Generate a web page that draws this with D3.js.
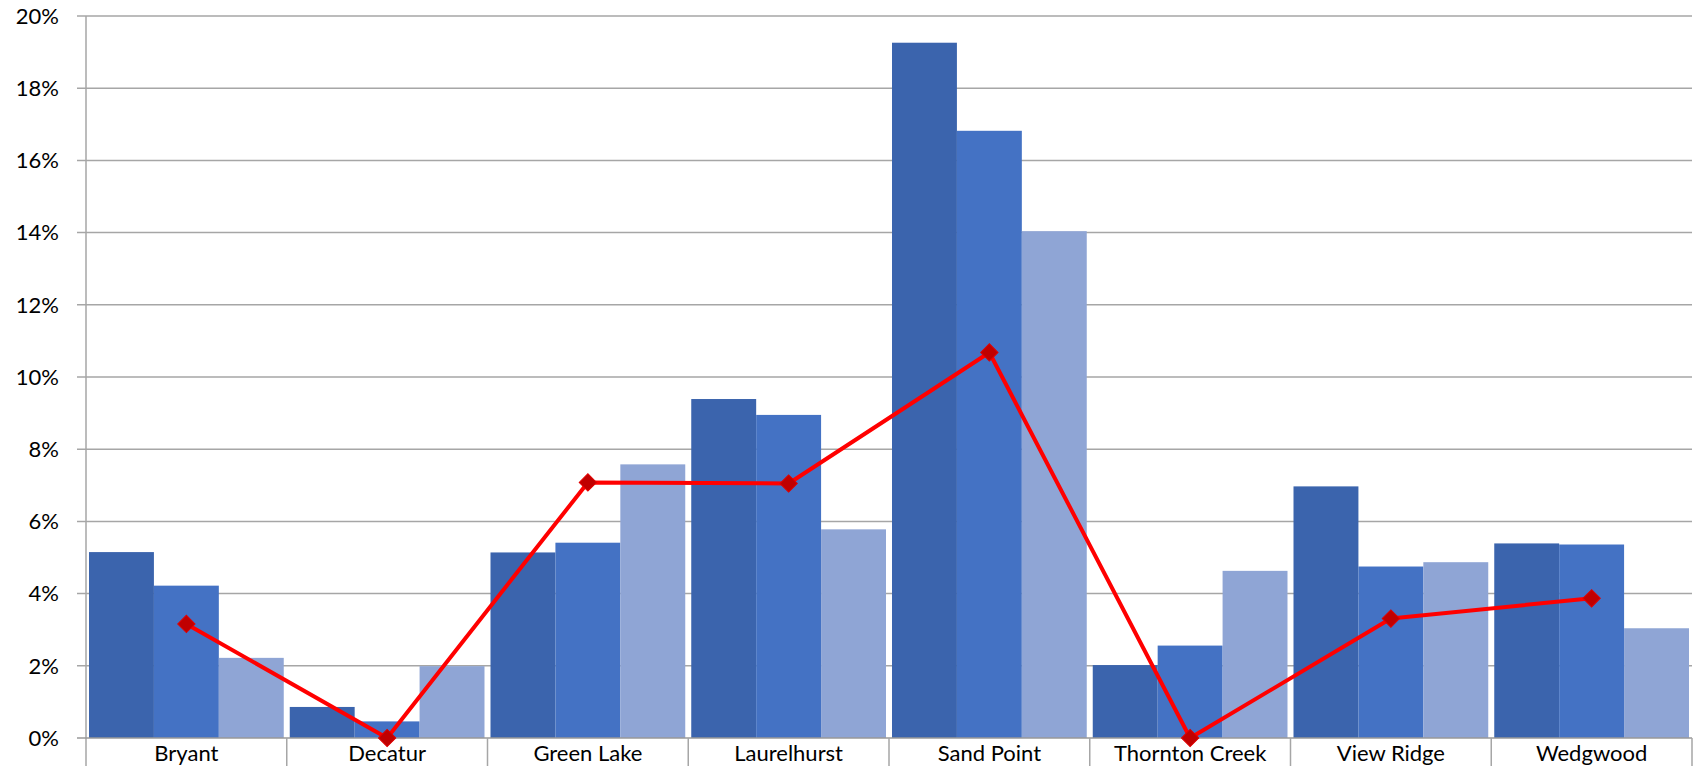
<!DOCTYPE html>
<html>
<head>
<meta charset="utf-8">
<script src="https://cdn.jsdelivr.net/npm/d3@7"></script>
<style>
  html, body { margin: 0; padding: 0; background: #fff; }
  svg { display: block; }
  text { font-family: Lato, "Open Sans", sans-serif; fill: #000; }
</style>
</head>
<body>
<svg id="chart" width="1696" height="766"></svg>
<script>
const categories = ["Bryant", "Decatur", "Green Lake", "Laurelhurst", "Sand Point", "Thornton Creek", "View Ridge", "Wedgwood"];
const seriesNames = ["Series A", "Series B", "Series C"];
const seriesA = [5.15, 0.86, 5.14, 9.39, 19.26, 2.02, 6.97, 5.39];
const seriesB = [4.22, 0.46, 5.41, 8.95, 16.82, 2.56, 4.75, 5.36];
const seriesC = [2.22, 1.99, 7.58, 5.78, 14.04, 4.63, 4.87, 3.04];
const lineValues = [3.16, 0.00, 7.08, 7.05, 10.68, 0.00, 3.31, 3.87];
const yTicks = [0, 2, 4, 6, 8, 10, 12, 14, 16, 18, 20];
const barColors = ["#3B64AD", "#4472C4", "#8FA5D5"];

(function () {
const svg = d3.select("#chart");
const mLeft = 86, mRight = 1692, mTop = 16, mBottom = 738;

const x0 = d3.scaleBand().domain(categories).range([mLeft, mRight]).padding(0);
const x1 = d3.scaleBand().domain(seriesNames).range([3, x0.bandwidth() - 3]).padding(0);
const y = d3.scaleLinear().domain([0, 20]).range([mBottom, mTop]);

// gridlines
svg.append("g").selectAll("line").data(yTicks.filter(d => d > 0)).join("line")
  .attr("x1", mLeft - 9).attr("x2", mRight)
  .attr("y1", d => y(d)).attr("y2", d => y(d))
  .attr("stroke", "#A6A6A6").attr("stroke-width", 1.5);

// y axis line
svg.append("line").attr("x1", mLeft).attr("x2", mLeft).attr("y1", mTop).attr("y2", 766)
  .attr("stroke", "#A6A6A6").attr("stroke-width", 1.5);

// y tick labels
svg.append("g").selectAll("text").data(yTicks).join("text")
  .attr("x", 59).attr("y", d => y(d)).attr("dy", "0.35em")
  .attr("text-anchor", "end").attr("font-size", 22)
  .text(d => d + "%");

// bars
const data = categories.map((c, i) => ({ c, vals: [seriesA[i], seriesB[i], seriesC[i]] }));
const groups = svg.append("g").selectAll("g").data(data).join("g")
  .attr("transform", d => `translate(${x0(d.c)},0)`);
groups.selectAll("rect").data(d => d.vals.map((v, j) => ({ v, s: seriesNames[j], j }))).join("rect")
  .attr("x", d => x1(d.s)).attr("width", x1.bandwidth())
  .attr("y", d => y(d.v)).attr("height", d => y(0) - y(d.v))
  .attr("fill", d => barColors[d.j]);

// x axis line
svg.append("line").attr("x1", mLeft - 9).attr("x2", mRight).attr("y1", y(0)).attr("y2", y(0))
  .attr("stroke", "#999999").attr("stroke-width", 1.5);

// category tick marks
const bounds = categories.map(c => x0(c)).concat([mRight]);
svg.append("g").selectAll("line").data(bounds.slice(1)).join("line")
  .attr("x1", d => d).attr("x2", d => d).attr("y1", y(0)).attr("y2", 766)
  .attr("stroke", "#A6A6A6").attr("stroke-width", 1.5);

// category labels
svg.append("g").selectAll("text").data(categories).join("text")
  .attr("x", d => x0(d) + x0.bandwidth() / 2).attr("y", 761)
  .attr("text-anchor", "middle").attr("font-size", 22)
  .text(d => d);

// line
const cx = i => x0(categories[i]) + x0.bandwidth() / 2;
const line = d3.line().x((d, i) => cx(i)).y(d => y(d));
svg.append("path").datum(lineValues).attr("d", line)
  .attr("fill", "none").attr("stroke", "#FF0000").attr("stroke-width", 4)
  .attr("stroke-linejoin", "round");

svg.append("g").selectAll("path").data(lineValues).join("path")
  .attr("d", d3.symbol().type(d3.symbolSquare).size(150))
  .attr("transform", (d, i) => `translate(${cx(i)},${y(d)}) rotate(45)`)
  .attr("fill", "#C00000").attr("stroke", "#E00000").attr("stroke-width", 1);
})();
</script>
</body>
</html>
